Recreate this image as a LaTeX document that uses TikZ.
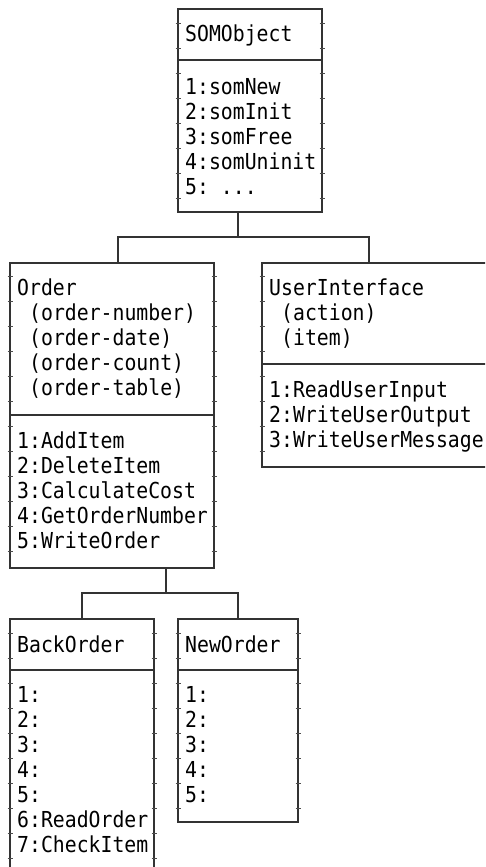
\documentclass[tikz,border=0pt]{standalone}
\usepackage{fontspec}
\setmonofont[FakeStretch=0.9]{DejaVu Sans Mono}
\tikzset{
  cls/.style  = {draw=black!80, line width=1.2pt, inner sep=0pt,
                 outer sep=0pt, anchor=north west},
  txt/.style  = {anchor=base west, inner sep=0pt,
                 font=\ttfamily\fontsize{22}{25}\selectfont},
  link/.style = {draw=black!80, line width=1.2pt},
  tick/.style = {black!70, line width=0.8pt}
}

\begin{document}
\begin{tikzpicture}[x=1pt, y=-1pt]
    \useasboundingbox (0,0) rectangle (485,867);
    \clip (0,0) rectangle (485,867);

    % class boxes
    \node[cls, minimum width=144pt, minimum height=203pt] (som)   at (178,9)   {};
    \node[cls, minimum width=204pt, minimum height=305pt] (order) at (10,263)  {};
    \node[cls, minimum width=228pt, minimum height=204pt] (ui)    at (262,263) {};
    \node[cls, minimum width=144pt, minimum height=270pt] (back)  at (10,619)  {};
    \node[cls, minimum width=120pt, minimum height=203pt] (new)   at (178,619) {};

    % dividers
    \draw[link] (som.west |- 0,60)    -- (som.east |- 0,60);
    \draw[link] (order.west |- 0,415) -- (order.east |- 0,415);
    \draw[link] (ui.west |- 0,364)    -- (ui.east |- 0,364);
    \draw[link] (back.west |- 0,670)  -- (back.east |- 0,670);
    \draw[link] (new.west |- 0,670)   -- (new.east |- 0,670);

    % side ticks
    \foreach \y in {23,48,...,198}{
      \draw[tick] (som.west |- 0,\y) +(-2.5,0) -- +(2.5,0);
      \draw[tick] (som.east |- 0,\y) +(-2.5,0) -- +(2.5,0);}
    \foreach \y in {276,301,...,551}{
      \draw[tick] (order.west |- 0,\y) +(-2.5,0) -- +(2.5,0);
      \draw[tick] (order.east |- 0,\y) +(-2.5,0) -- +(2.5,0);}
    \foreach \y in {276,301,...,451}
      \draw[tick] (ui.west |- 0,\y) +(-2.5,0) -- +(2.5,0);
    \foreach \y in {633,658,...,858}{
      \draw[tick] (back.west |- 0,\y) +(-2.5,0) -- +(2.5,0);
      \draw[tick] (back.east |- 0,\y) +(-2.5,0) -- +(2.5,0);}
    \foreach \y in {633,658,...,808}{
      \draw[tick] (new.west |- 0,\y) +(-2.5,0) -- +(2.5,0);
      \draw[tick] (new.east |- 0,\y) +(-2.5,0) -- +(2.5,0);}

    % inheritance links
    \draw[link] ([xshift=-12pt]som.south) -- ++(0,25) -| ([xshift=6pt]order.north);
    \draw[link] ([xshift=-12pt]som.south) -- ++(0,25) -| ([xshift=-7pt]ui.north);
    \draw[link] ([xshift=54pt]order.south) -- ++(0,25) -| (back.north);
    \draw[link] ([xshift=54pt]order.south) -- ++(0,25) -| (new.north);

    % SOMObject
    \node[txt] (som-name) at (185,42) {SOMObject};
    \foreach \m [count=\i from 0] in {1:somNew,2:somInit,3:somFree,4:somUninit}
      \node[txt] (som-m\i) at (185,94+25*\i) {\m};
    \node[txt] (som-m4) at (185,194) {5: ...};

    % Order
    \node[txt] (order-name) at (17,295) {Order};
    \foreach \a [count=\i from 0] in {(order-number),(order-date),(order-count),(order-table)}
      \node[txt] (order-a\i) at (29,320+25*\i) {\a};
    \foreach \m [count=\i from 0] in {1:AddItem,2:DeleteItem,3:CalculateCost,4:GetOrderNumber,5:WriteOrder}
      \node[txt] (order-m\i) at (17,448+25*\i) {\m};

    % UserInterface
    \node[txt] (ui-name) at (269,295) {UserInterface};
    \foreach \a [count=\i from 0] in {(action),(item)}
      \node[txt] (ui-a\i) at (281,320+25*\i) {\a};
    \foreach \m [count=\i from 0] in {1:ReadUserInput,2:WriteUserOutput,3:WriteUserMessage}
      \node[txt] (ui-m\i) at (269,397+25*\i) {\m};

    % BackOrder
    \node[txt] (back-name) at (17,652) {BackOrder};
    \foreach \m [count=\i from 0] in {1:,2:,3:,4:,5:,6:ReadOrder,7:CheckItem}
      \node[txt] (back-m\i) at (17,702+25*\i) {\m};

    % NewOrder
    \node[txt] (new-name) at (185,652) {NewOrder};
    \foreach \m [count=\i from 0] in {1:,2:,3:,4:,5:}
      \node[txt] (new-m\i) at (185,702+25*\i) {\m};
\end{tikzpicture}
\end{document}
